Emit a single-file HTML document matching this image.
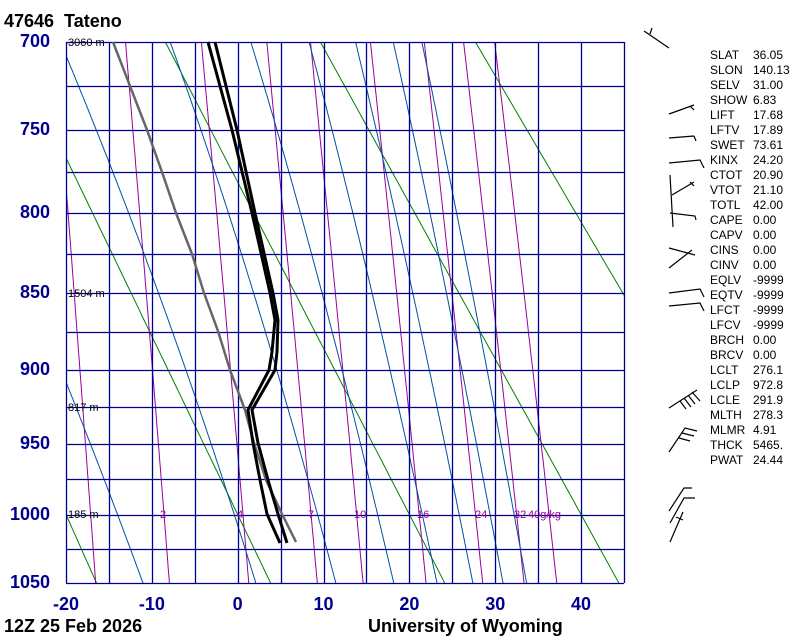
<!DOCTYPE html>
<html><head><meta charset="utf-8">
<style>
html,body{margin:0;padding:0;background:#fff;}
body{width:800px;height:640px;overflow:hidden;position:relative;font-family:"Liberation Sans",sans-serif;}
.t{position:absolute;white-space:nowrap;}
.yl{position:absolute;right:750px;font-weight:bold;font-size:18px;color:#000090;}
.xl{position:absolute;top:594px;font-weight:bold;font-size:18px;color:#000090;transform:translateX(-50%);}
.idx{position:absolute;left:710px;font-size:12px;color:#000;line-height:15px;}
.val{position:absolute;left:753px;font-size:12px;color:#000;line-height:15px;}
</style></head><body>
<svg id="s" width="800" height="640" style="position:absolute;left:0;top:0">
<defs><clipPath id="c"><rect x="66" y="42" width="558" height="541"/></clipPath></defs>
<g id="g" clip-path="url(#c)"></g>
<g id="grid"></g>
<g id="snd"></g>
<g id="barbs" stroke="#000" stroke-width="1.2" fill="none">
<path d="M644,31 L669,48 M650,34 L652,28"/>
<path d="M669,114 L694,105 M690,106 L694,110"/>
<path d="M669,138 L694,136 M694,136 L696,141"/>
<path d="M669,163 L700,160 L704,168"/>
<path d="M670,175 L673,227 M672,195 L694,182 M690,182 L694,186"/>
<path d="M670,213 L695,216 L696,220"/>
<path d="M669,248 L695,255 M669,268 L692,250"/>
<path d="M669,293 L700,289 L704,297"/>
<path d="M669,306 L700,303 L704,311"/>
<path d="M669,408 L697,390 M688,395 L695,404 M684,398 L691,407 M680,401 L686,409 M692,392 L700,401"/>
<path d="M669,452 L685,428 L697,431 M682,433 L694,436 M679,438 L690,441"/>
<path d="M669,511 L684,488 L692,488 M670,523 L684,498 L695,498 M670,542 L683,512 M676,517 L683,520"/>
</g>
</svg>
<div class="t" style="left:4px;top:11px;font-weight:bold;font-size:18px;">47646&nbsp; Tateno</div>
<div class="t" style="left:4px;top:616px;font-weight:bold;font-size:18px;">12Z 25 Feb 2026</div>
<div class="t" style="left:368px;top:616px;font-weight:bold;font-size:18px;">University of Wyoming</div>
<div id="lab"></div>
<script>
var s=document.getElementById('s'),g=document.getElementById('g'),gr=document.getElementById('grid'),sn=document.getElementById('snd');
var NS='http://www.w3.org/2000/svg';
function Y(p){var a=Math.pow(700,.286),b=Math.pow(1050,.286);return 42+(Math.pow(p,.286)-a)/(b-a)*541;}
function X(t){return 66+(t+20)*558/65;}
function pl(par,pts,col,w){var e=document.createElementNS(NS,'polyline');e.setAttribute('points',pts.map(function(q){return q[0].toFixed(1)+','+q[1].toFixed(1)}).join(' '));e.setAttribute('fill','none');e.setAttribute('stroke',col);e.setAttribute('stroke-width',w);e.setAttribute('stroke-linejoin','round');par.appendChild(e);}
function tx(par,x,y,str,col,sz){var e=document.createElementNS(NS,'text');e.setAttribute('x',x);e.setAttribute('y',y);e.setAttribute('fill',col);e.setAttribute('font-size',sz);e.setAttribute('font-family','Liberation Sans, sans-serif');e.textContent=str;par.appendChild(e);}
for(var th=253.15;th<=373.15;th+=20){var pts=[];for(var p=690;p<=1060;p+=5){pts.push([X(th*Math.pow(p/1000,.286)-273.15),Y(p)]);}pl(g,pts,'#008000',1);}
var rs=[0.6,1,2,4,7,10,16,24,32,40];
function td(r,p){var e=r*p/(0.622+r);var l=Math.log(e/6.112);return 243.5*l/(17.67-l);}
rs.forEach(function(r){var pts=[];for(var p=690;p<=1060;p+=5)pts.push([X(td(r/1000,p)),Y(p)]);pl(g,pts,'#990099',1);});
function es(t){return 6.112*Math.exp(17.67*t/(t+243.5));}
function dTdp(T,p){var tc=T-273.15;var e=es(tc);var r=0.622*e/(p-e);return (287*T+2.5e6*r)/(p*(1004+2.5e6*2.5e6*r*0.622/(287*T*T)));}
[-14,-0.4,9.3,16.3,21.5,25.8,29.4,32.2].forEach(function(t0){
 var up=[],T=t0+273.15;for(var p=1000;p>=690;p-=1){up.push([X(T-273.15),Y(p)]);T-=dTdp(T,p);}
 var dn=[];T=t0+273.15;for(var p=1000;p<=1060;p+=1){dn.push([X(T-273.15),Y(p)]);T+=dTdp(T,p);}
 pl(g,up.reverse().concat(dn),'#0050a0',1);
});
for(var p=700;p<=1050;p+=25){var y=Math.round(Y(p))+0.5;pl(gr,[[66,y],[624,y]],'#000090',1.3);}
for(var t=-20;t<=45;t+=5){var x=Math.round(X(t))+0.5;pl(gr,[[x,42],[x,583]],'#000090',1.3);}
var lab='';
for(var p=700;p<=1050;p+=50){lab+='<div class="yl" style="top:'+(Y(p)-11)+'px">'+p+'</div>';}
[-20,-10,0,10,20,30,40].forEach(function(t){lab+='<div class="xl" style="left:'+X(t)+'px">'+t+'</div>';});
var idx=[['SLAT','36.05'],['SLON','140.13'],['SELV','31.00'],['SHOW','6.83'],['LIFT','17.68'],['LFTV','17.89'],['SWET','73.61'],['KINX','24.20'],['CTOT','20.90'],['VTOT','21.10'],['TOTL','42.00'],['CAPE','0.00'],['CAPV','0.00'],['CINS','0.00'],['CINV','0.00'],['EQLV','-9999'],['EQTV','-9999'],['LFCT','-9999'],['LFCV','-9999'],['BRCH','0.00'],['BRCV','0.00'],['LCLT','276.1'],['LCLP','972.8'],['LCLE','291.9'],['MLTH','278.3'],['MLMR','4.91'],['THCK','5465.'],['PWAT','24.44']];
idx.forEach(function(a,i){var y=48+i*15;lab+='<div class="idx" style="top:'+y+'px">'+a[0]+'</div><div class="val" style="top:'+y+'px">'+a[1]+'</div>';});
document.getElementById('lab').innerHTML=lab;
[[163,'2'],[240,'4'],[311,'7'],[357,'10'],[420,'16'],[478,'24'],[517,'32'],[531,'40g/kg']].forEach(function(a){tx(gr,a[0]-3,518,a[1],'#990099',11);});
[[42,'3060 m'],[293,'1504 m'],[407,'817 m'],[514,'185 m']].forEach(function(a){tx(gr,68,a[0]+4,a[1],'#000',11);});
pl(sn,[[296,542],[282,514],[266,480],[254,443],[245,410],[230,370],[218,331],[204,293],[192,254],[176,213],[162,172],[147,130],[130,86],[113,42]],'#666',2.5);
pl(sn,[[215,42],[237,130],[255,213],[273,293],[278,320],[277,352],[275,370],[252,410],[258,443],[268,480],[278,514],[287,543]],'#000',3);
pl(sn,[[208,42],[232,130],[252,213],[270,293],[275,320],[272,352],[269,370],[248,410],[253,443],[260,480],[267,514],[280,543]],'#000',3);
</script>
</body></html>
